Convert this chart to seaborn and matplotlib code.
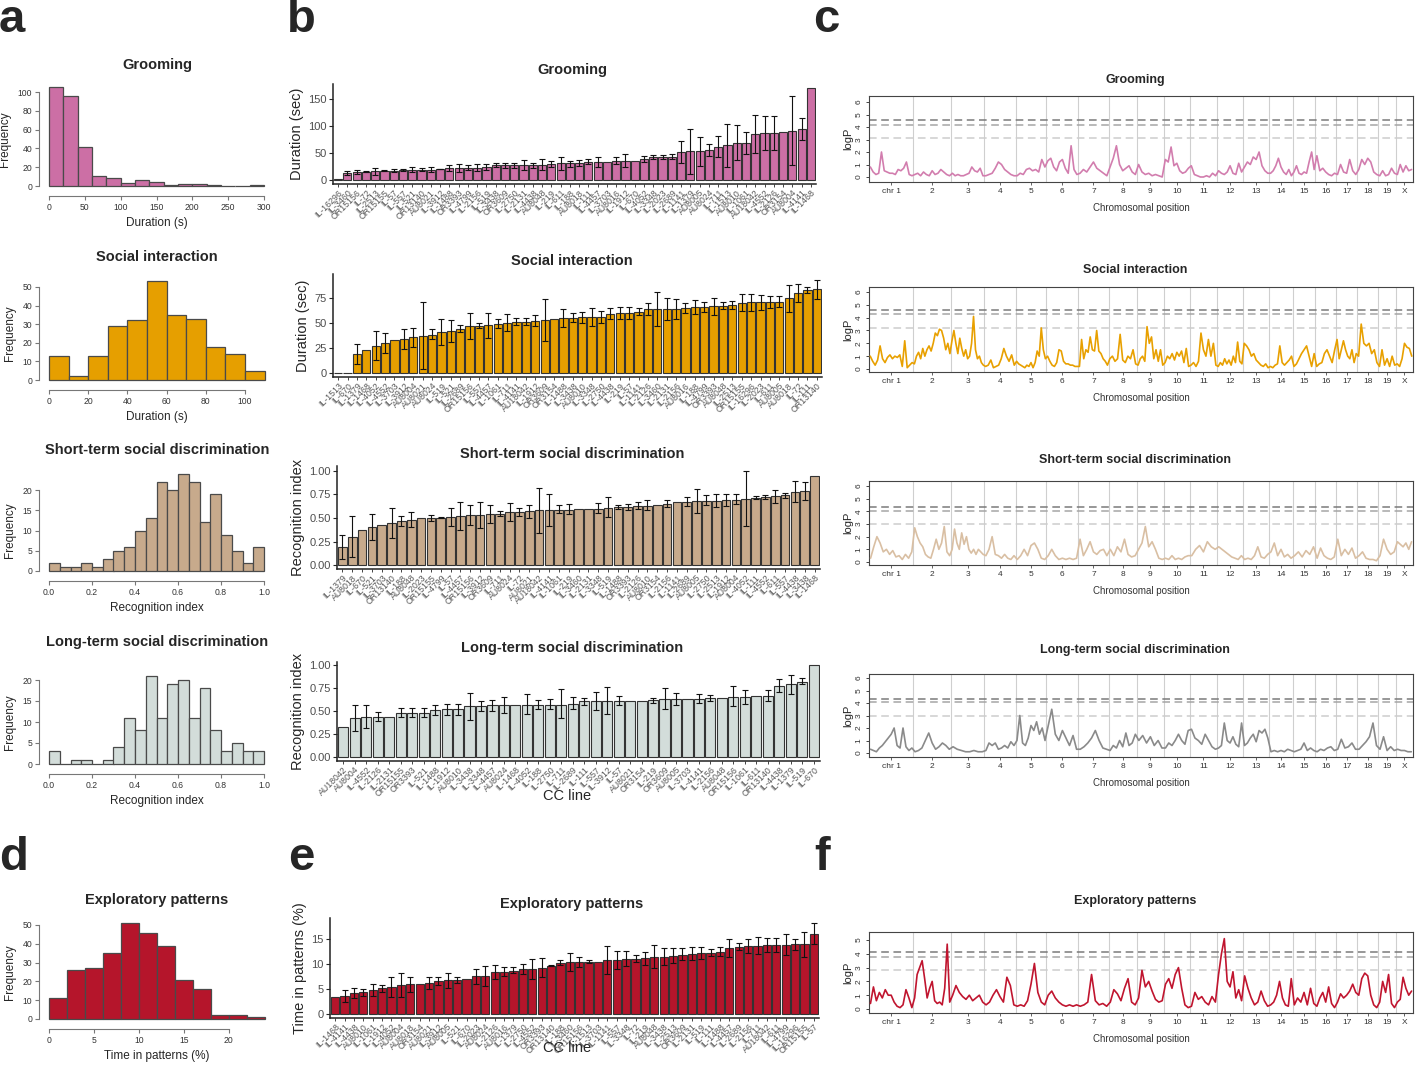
import numpy as np
import pandas as pd
import matplotlib
matplotlib.use("Agg")
import matplotlib.pyplot as plt
import seaborn as sns

# ---------------- colours ----------------
pink, orange, tan, sage, red = "#CC6FA5", "#E69F00", "#C7AA8C", "#D3DDDA", "#B5152B"
pink_line, orange_line, tan_line, grey_line, red_line = "#D27DAE", "#E8A000", "#D9BFA3", "#8A8A8A", "#C0152F"

# ---------------- a / d : histograms (bin counts) ----------------
groom_edges = list(range(0, 301, 20))
groom_counts = [105, 96, 42, 11, 8, 3, 6, 4, 1, 2, 2, 1, 0, 0, 1]
social_edges = list(range(0, 111, 10))
social_counts = [13, 2, 13, 29, 32, 53, 35, 33, 18, 14, 5]
ri_edges = [i / 20 for i in range(21)]
short_counts = [2, 1, 1, 2, 1, 3, 5, 6, 10, 13, 22, 20, 24, 22, 12, 19, 9, 5, 2, 6]
long_counts = [3, 0, 1, 1, 0, 1, 4, 11, 8, 21, 11, 19, 20, 11, 18, 8, 3, 5, 3, 3]
explo_edges = list(range(0, 25, 2))
explo_counts = [11, 26, 27, 35, 51, 46, 39, 21, 16, 2, 2, 1]

nan = np.nan

# ---------------- b / e : CC line means with error bars ----------------
groom_lines = ["IL-16296", "IL-3460", "OR15156", "IL-72", "IL-2513", "OR15155", "IL-57", "IL-557",
               "IL-521", "OR13140", "AU8021", "IL-3912", "IL-1488", "OR3393", "IL-4799", "IL-2156",
               "IL-519", "IL-3438", "OR3609", "IL-2750", "IL-2131", "IL-4438", "AU8048", "IL-219",
               "IL-611", "IL-188", "AU8018", "IL-111", "IL-4457", "IL-3703", "AU8016", "IL-1912",
               "IL-670", "IL-4052", "IL-3348", "IL-2023", "IL-2689", "IL-1141", "IL-1379", "AU8005",
               "AU8024", "IL-711", "IL-1513", "AU8010", "IL-1061", "AU18042", "IL-4552", "IL-2126",
               "OR3154", "AU8004", "IL-4141", "IL-1468"]
groom_mean = [2, 13, 14, 15, 16, 17, 17, 18, 19, 19, 19, 20, 22, 22, 22, 22, 24, 27, 27, 27, 27, 28,
              28, 30, 31, 31, 31, 33, 34, 34, 36, 36, 36, 38, 42, 43, 43, 52, 53, 53, 55, 62, 64, 69,
              69, 85, 87, 87, 88, 91, 94, 171]
groom_lo = [nan, 10, 11, 14, 10, 16, 14, 16, 15, 16, 15, 20, 17, 15, 18, 16, 19, 24, 22, 23, 18, 23,
            18, 25, 18, 25, 26, 29, 25, nan, 30, 25, nan, 33, 38, 39, 38, 32, 12, 26, 44, 43, 25, 37,
            49, 50, 56, 56, nan, 27, 74, nan]
groom_hi = [nan, 16, 18, 17, 23, 18, 20, 21, 24, 23, 24, 21, 28, 30, 27, 29, 29, 31, 32, 32, 37, 32,
            38, 35, 43, 36, 37, 38, 43, nan, 43, 48, nan, 44, 46, 47, 48, 72, 94, 80, 67, 82, 103, 101,
            89, 120, 118, 118, nan, 155, 115, nan]

social_lines = ["IL-1513", "IL-670", "IL-1379", "IL-1468", "IL-4052", "IL-4552", "IL-3703", "IL-3912",
                "AU8004", "AU8021", "AU8024", "IL-519", "IL-521", "IL-2689", "OR15156", "IL-557",
                "IL-4457", "IL-1061", "IL-711", "IL-4141", "AU18042", "IL-1912", "OR3609", "OR3154",
                "IL-1488", "IL-3438", "AU8010", "IL-3348", "IL-2750", "IL-4438", "IL-219", "IL-57",
                "IL-1141", "IL-2126", "IL-3460", "IL-2131", "IL-2156", "AU8016", "IL-188", "IL-4799",
                "OR3393", "AU8048", "IL-2513", "OR15155", "IL-16296", "IL-2023", "IL-611", "AU8005",
                "AU8018", "IL-72", "IL-111", "OR13140"]
social_mean = [0, 0, 19, 23, 27, 30, 33, 34, 36, 37, 38, 41, 42, 44, 47, 47, 48, 49, 50, 51, 51, 52,
               53, 54, 55, 55, 56, 56, 56, 59, 60, 60, 61, 64, 64, 64, 64, 65, 66, 66, 67, 67, 68, 70,
               71, 71, 71, 71, 75, 80, 83, 84]
social_lo = [nan, nan, 9, nan, 13, 20, nan, 24, 26, 4, 34, 28, 31, 41, 34, 45, 35, 45, 42, 48, 48, 47,
             32, nan, 46, 51, 50, 47, 50, 54, 54, 54, 58, 58, 47, 53, 54, 60, 59, 61, 58, 64, 64, 62,
             62, 63, 65, 66, 61, 71, 80, 74]
social_hi = [nan, nan, 29, nan, 42, 40, nan, 44, 45, 71, 44, 54, 53, 48, 60, 50, 60, 54, 59, 55, 55, 58,
             74, nan, 64, 60, 61, 65, 62, 65, 66, 66, 65, 70, 81, 75, 74, 70, 73, 71, 75, 71, 72, 79,
             79, 78, 77, 77, 88, 89, 86, 93]

short_lines = ["IL-1379", "AU8018", "IL-670", "IL-521", "IL-3703", "OR13140", "IL-188", "AU8048",
               "IL-2023", "OR15155", "IL-4799", "IL-57", "IL-4457", "OR15156", "IL-3912", "OR3609",
               "IL-711", "AU8024", "IL-72", "AU8021", "AU18042", "IL-4141", "IL-1061", "IL-219",
               "IL-3460", "IL-2131", "IL-3348", "IL-519", "IL-1488", "OR3393", "IL-2126", "AU8010",
               "OR3154", "IL-2156", "IL-1141", "IL-2689", "AU8005", "IL-2750", "IL-2513", "IL-1912",
               "AU8004", "IL-4052", "IL-111", "IL-4552", "IL-611", "IL-557", "IL-4438", "IL-3438",
               "IL-1468"]
short_mean = [0.19, 0.30, 0.37, 0.40, 0.43, 0.45, 0.47, 0.48, 0.50, 0.50, 0.50, 0.51, 0.52, 0.53, 0.53,
              0.54, 0.54, 0.56, 0.56, 0.57, 0.58, 0.58, 0.59, 0.59, 0.60, 0.60, 0.60, 0.61, 0.62, 0.62,
              0.63, 0.63, 0.64, 0.65, 0.67, 0.67, 0.68, 0.68, 0.68, 0.69, 0.69, 0.70, 0.71, 0.72, 0.73,
              0.74, 0.78, 0.79, 0.95]
short_lo = [0.06, 0.09, nan, 0.27, nan, 0.29, 0.42, 0.40, nan, 0.47, 0.50, 0.42, 0.37, 0.43, 0.39,
            0.45, 0.52, 0.47, 0.52, 0.50, 0.34, 0.41, 0.55, 0.54, nan, nan, 0.55, 0.51, 0.60, 0.59,
            0.60, 0.58, nan, 0.62, nan, 0.63, 0.55, 0.64, 0.62, 0.63, 0.65, 0.41, 0.70, 0.70, 0.66,
            0.71, 0.67, 0.69, nan]
short_hi = [0.32, 0.52, nan, 0.54, nan, 0.61, 0.52, 0.56, nan, 0.53, 0.51, 0.61, 0.67, 0.64, 0.67,
            0.64, 0.57, 0.66, 0.61, 0.64, 0.82, 0.76, 0.64, 0.65, nan, nan, 0.66, 0.72, 0.64, 0.65,
            0.67, 0.69, nan, 0.69, nan, 0.72, 0.81, 0.74, 0.76, 0.75, 0.75, 1.00, 0.73, 0.74, 0.80,
            0.77, 0.89, 0.88, nan]

long_lines = ["AU18042", "AU8004", "IL-4552", "IL-2126", "IL-2131", "OR15155", "OR3393", "IL-521",
              "IL-1488", "IL-1912", "AU8010", "IL-3438", "IL-3348", "IL-4457", "AU8024", "IL-1468",
              "IL-4052", "IL-188", "IL-2750", "IL-711", "IL-2689", "IL-111", "IL-557", "IL-3912",
              "IL-57", "AU8021", "OR3154", "IL-219", "OR3609", "AU8005", "IL-3703", "IL-4141",
              "IL-2156", "AU8048", "OR15156", "IL-1061", "IL-611", "OR13140", "IL-4438", "IL-1379",
              "IL-519", "IL-670"]
long_mean = [0.33, 0.42, 0.43, 0.43, 0.44, 0.48, 0.48, 0.48, 0.51, 0.52, 0.52, 0.55, 0.55, 0.56, 0.56,
             0.57, 0.57, 0.57, 0.57, 0.57, 0.58, 0.61, 0.61, 0.61, 0.61, 0.61, 0.61, 0.62, 0.63, 0.63,
             0.63, 0.63, 0.64, 0.64, 0.65, 0.65, 0.66, 0.66, 0.77, 0.79, 0.82, 1.00]
long_lo = [nan, 0.28, 0.31, 0.39, nan, 0.44, 0.43, 0.44, 0.46, 0.46, 0.46, 0.40, 0.50, 0.50, 0.48, nan,
           0.47, 0.52, 0.52, 0.42, 0.52, 0.57, 0.51, 0.47, 0.57, nan, nan, 0.59, 0.52, 0.57, nan, 0.59,
           0.61, nan, 0.55, 0.58, nan, 0.61, 0.71, 0.69, 0.79, nan]
long_hi = [nan, 0.57, 0.56, 0.49, nan, 0.53, 0.53, 0.53, 0.57, 0.58, 0.58, 0.70, 0.61, 0.62, 0.65, nan,
           0.68, 0.62, 0.63, 0.74, 0.65, 0.64, 0.71, 0.76, 0.66, nan, nan, 0.64, 0.75, 0.70, nan, 0.69,
           0.67, nan, 0.77, 0.73, nan, 0.73, 0.85, 0.89, 0.86, nan]

explo_lines = ["IL-1468", "IL-4141", "IL-4438", "AU8010", "IL-1061", "IL-1912", "IL-4052", "AU8004",
               "AU8018", "OR3154", "AU8021", "IL-3912", "AU8005", "IL-521", "IL-670", "IL-2023",
               "AU8024", "IL-2126", "AU8016", "IL-1379", "IL-2750", "IL-4552", "OR3393", "OR13140",
               "IL-188", "IL-3460", "OR15156", "IL-1513", "IL-3703", "IL-1141", "IL-557", "IL-3348",
               "IL-72", "IL-219", "AU8048", "IL-3438", "IL-2513", "OR3609", "IL-2131", "IL-519",
               "IL-111", "IL-1488", "IL-4457", "IL-2689", "IL-2156", "IL-711", "AU18042", "IL-611",
               "IL-4799", "IL-16296", "OR15155", "IL-57"]
explo_mean = [3.5, 3.6, 4.3, 4.4, 4.8, 5.2, 5.5, 5.8, 6.0, 6.0, 6.2, 6.6, 6.8, 6.8, 7.0, 7.6, 7.7, 8.4,
              8.5, 8.7, 9.0, 9.1, 9.3, 9.7, 10.3, 10.4, 10.4, 10.5, 10.5, 10.8, 10.9, 11.1, 11.1, 11.2,
              11.5, 11.5, 11.7, 11.9, 12.1, 12.2, 12.3, 12.5, 13.2, 13.4, 13.7, 13.7, 13.8, 13.8, 13.9,
              14.0, 14.0, 16.1]
explo_lo = [nan, 2.4, 3.3, 3.7, 3.6, 4.5, 3.5, 3.4, 4.5, nan, 5.0, 5.9, 5.3, 6.2, nan, 6.1, 5.7, 7.0,
            7.6, 8.2, 8.1, 7.1, 7.5, 9.6, 9.8, 8.6, 9.4, 10.2, nan, 8.0, 9.1, 9.7, 10.4, 9.8, 9.3, 9.8,
            10.2, 10.8, 10.8, 11.0, 11.6, 11.6, 11.5, 12.8, 12.2, 12.0, 12.4, 12.5, 11.8, 12.9, 11.5,
            14.0]
explo_hi = [nan, 4.8, 5.3, 5.1, 6.0, 5.9, 7.4, 8.2, 7.5, nan, 7.5, 7.5, 8.3, 7.4, nan, 9.0, 9.7, 9.8,
            9.5, 9.5, 10.0, 11.1, 11.2, 9.9, 10.9, 12.2, 11.5, 10.9, nan, 13.6, 12.6, 12.6, 11.9, 12.5,
            13.8, 13.2, 13.3, 13.2, 13.4, 13.4, 13.1, 13.5, 15.0, 14.2, 15.1, 15.5, 15.2, 15.2, 16.0,
            15.1, 16.5, 18.2]

# ---------------- c / f : genome scans (logP per chromosome, coarse reading) ----------------
chrom_names = ["chr 1"] + [str(i) for i in range(2, 20)] + ["X"]
chrom_len = [125, 106, 94, 88, 87, 90, 85, 80, 76, 73, 77, 73, 74, 66, 64, 58, 60, 59, 50, 48]

groom_lod = [
    [0.8, 0.4, 0.2, 0.3, 2.0, 0.5, 0.4, 0.3, 0.3, 0.2, 0.6, 0.5, 0.7, 1.2, 0.2, 0.1],
    [0.2, 0.3, 0.1, 0.4, 0.2, 0.1, 0.5, 0.2, 0.3, 0.6, 0.4, 0.2, 0.1],
    [0.3, 0.1, 0.2, 0.1, 0.1, 0.2, 0.3, 0.8, 0.5, 0.4, 0.7, 0.1],
    [0.1, 0.2, 0.3, 0.7, 1.2, 1.0, 0.6, 0.4, 0.2, 0.1],
    [0.1, 0.3, 0.2, 0.6, 0.7, 0.5, 0.6, 0.4, 1.4, 0.8],
    [1.3, 1.5, 0.8, 0.5, 1.2, 1.4, 0.7, 0.3, 2.5, 0.6, 0.2],
    [0.3, 0.6, 0.4, 0.8, 1.2, 0.7, 0.5, 0.3, 0.1],
    [0.8, 1.5, 2.5, 1.0, 0.5, 0.7, 0.9, 0.4, 0.2],
    [1.0, 0.4, 0.2, 0.3, 0.1, 0.2, 0.1, 0.0],
    [1.4, 1.2, 2.4, 0.9, 1.1, 0.5, 0.3, 0.4, 0.7],
    [0.9, 0.2, 0.1, 0.0, 0.0, 0.1, 0.0, 0.3, 0.1],
    [0.5, 0.3, 0.2, 0.4, 0.9, 0.3, 0.2, 1.1, 0.4],
    [0.8, 1.2, 1.0, 1.6, 1.4, 2.0, 0.9, 0.5, 0.3],
    [0.3, 0.5, 0.9, 1.5, 0.8, 0.4, 0.2, 0.6, 0.1],
    [0.4, 0.9, 0.3, 0.2, 0.4, 0.3, 1.2, 2.0, 0.6],
    [1.7, 0.5, 0.7, 0.4, 0.2, 0.1, 0.3],
    [0.2, 1.0, 0.4, 0.3, 1.4, 0.5, 0.2],
    [0.6, 1.4, 1.0, 1.5, 1.2, 0.4, 0.2],
    [0.1, 0.5, 0.1, 0.2, 0.7, 0.3],
    [0.2, 1.0, 0.4, 0.9, 0.5, 0.6],
]
social_lod = [
    [1.0, 0.6, 0.3, 0.7, 1.8, 0.8, 0.5, 0.9, 1.1, 0.8, 1.0, 0.9, 1.1, 0.2, 2.2, 0.1, 0.3, 0.5],
    [0.4, 1.0, 1.3, 0.8, 1.6, 1.0, 1.5, 1.8, 1.4, 2.0, 2.8, 2.6, 3.1, 3.0, 2.4, 1.5, 2.0, 1.2],
    [2.2, 3.0, 2.0, 1.2, 2.4, 1.6, 1.0, 1.5, 0.8, 1.0, 2.0, 4.1, 1.5, 0.8, 1.0, 0.5, 0.3],
    [0.2, 0.3, 0.7, 0.1, 0.2, 0.3, 0.8, 1.6, 1.0, 0.6, 1.1, 0.3],
    [0.6, 0.4, 0.3, 0.2, 0.1, 0.3, 0.2, 0.5, 0.1, 0.5, 1.4, 1.0, 3.2, 1.5, 0.8],
    [1.0, 0.6, 0.3, 0.2, 0.5, 1.5, 1.4, 0.6, 0.4, 0.4, 0.3, 0.3, 0.2, 0.2],
    [0.2, 2.3, 0.8, 1.5, 1.3, 2.5, 1.5, 1.4, 3.0, 1.4, 1.2, 0.8, 0.6, 0.3],
    [0.8, 1.0, 0.6, 0.8, 2.7, 0.7, 0.5, 1.0, 0.8, 1.5, 0.4],
    [0.3, 0.8, 1.0, 0.6, 3.3, 2.0, 2.5, 0.8, 1.5, 0.6, 1.5, 0.3],
    [0.5, 1.0, 0.8, 1.2, 0.7, 1.3, 1.0, 1.4, 0.5, 1.6, 0.2],
    [0.3, 0.5, 0.2, 0.6, 2.8, 1.5, 1.0, 2.3, 1.0, 2.0, 0.3],
    [0.2, 0.5, 0.3, 0.8, 0.4, 0.7, 0.3, 1.0, 0.5, 2.1, 0.6, 0.4],
    [2.0, 1.8, 1.5, 1.0, 1.2, 0.7, 0.5, 0.3, 0.2, 0.4, 0.1],
    [0.2, 0.1, 0.3, 0.4, 1.8, 0.5, 0.3, 0.5, 0.7, 1.0],
    [0.2, 0.4, 0.8, 1.2, 1.5, 1.8, 1.0, 0.2, 1.2],
    [0.2, 0.4, 0.5, 1.2, 1.5, 1.0, 0.5, 1.5],
    [2.3, 0.8, 1.5, 2.2, 1.5, 1.0, 0.8, 1.5, 0.5, 1.2],
    [1.0, 3.5, 2.0, 1.8, 2.0, 1.2, 1.5, 0.5],
    [0.2, 1.5, 0.3, 0.8, 0.2, 1.0, 0.3],
    [0.4, 0.2, 0.8, 2.0, 1.7, 1.6, 1.0],
]
short_lod = [
    [0.3, 1.2, 2.0, 1.5, 0.8, 1.0, 0.6, 0.9, 0.4, 0.5, 0.2, 0.6, 0.3, 0.8],
    [2.7, 2.0, 1.5, 1.2, 0.6, 0.4, 0.3, 1.0, 1.8, 1.0, 1.5, 2.8, 0.8, 0.5],
    [1.0, 2.6, 1.5, 1.0, 2.3, 1.4, 2.0, 1.0, 0.7, 1.0, 0.6, 1.0, 0.8, 0.6],
    [0.5, 1.0, 2.0, 0.6, 0.5, 0.3, 0.6, 0.3, 0.2, 0.5],
    [0.2, 0.5, 1.0, 0.5, 1.3, 1.5, 1.0, 0.3, 0.2],
    [0.5, 1.0, 0.5, 0.2, 0.3, 0.2, 0.3, 0.2, 0.3],
    [1.8, 0.5, 1.0, 1.6, 0.8, 0.6, 0.9, 1.0, 0.5],
    [1.0, 0.5, 1.2, 0.8, 1.8, 0.6, 0.4, 0.5],
    [1.0, 1.5, 2.8, 1.2, 1.6, 1.0, 0.3, 0.2],
    [0.3, 0.2, 0.5, 0.2, 0.3, 0.2, 0.4, 0.5],
    [0.5, 1.0, 1.3, 0.8, 1.6, 1.2, 1.0],
    [1.2, 1.0, 0.8, 0.6, 0.4, 0.3, 0.2, 0.5],
    [0.2, 0.3, 0.2, 0.5, 1.2, 0.4, 0.3, 0.6],
    [0.8, 1.5, 0.5, 1.0, 0.4, 0.6, 0.3],
    [0.5, 0.8, 0.4, 0.9, 0.6, 1.2],
    [0.3, 1.1, 0.5, 0.3, 0.2, 0.4],
    [1.8, 0.5, 1.0, 0.6, 1.1, 0.3],
    [0.5, 0.8, 0.3, 0.2, 0.2, 0.1],
    [0.5, 1.8, 1.0, 0.6, 0.8],
    [1.6, 1.4, 1.2, 1.5, 1.0, 1.6],
]
long_lod = [
    [0.3, 0.2, 0.1, 0.4, 0.6, 0.9, 1.2, 1.5, 2.0, 0.6, 0.4, 2.0, 0.5, 0.2, 0.4],
    [0.1, 0.2, 0.4, 1.0, 1.6, 0.8, 0.3, 0.5, 0.8, 0.6, 0.3],
    [0.5, 0.3, 0.2, 0.1, 0.1, 0.2, 0.1, 0.1],
    [0.2, 0.8, 0.6, 0.8, 0.3, 0.4, 0.6, 0.4, 0.9, 0.6],
    [1.0, 3.0, 0.8, 0.6, 1.2, 2.2, 1.8, 2.5, 1.5, 2.0, 1.0],
    [2.2, 3.5, 1.5, 1.0, 1.8, 1.2, 0.6, 1.4, 0.3],
    [0.3, 0.5, 0.8, 1.2, 1.8, 1.0, 0.4, 0.3],
    [0.2, 0.6, 0.4, 1.0, 0.5, 1.6, 0.6, 0.8, 1.5],
    [1.0, 1.4, 0.8, 1.3, 0.6, 1.0, 0.4],
    [0.4, 0.8, 0.6, 1.0, 1.5, 1.0, 0.7, 1.8],
    [1.9, 1.2, 1.0, 0.7, 1.5, 1.0, 0.5, 0.3],
    [0.4, 0.6, 2.4, 1.0, 0.8, 1.3, 0.7, 0.5, 2.4],
    [0.6, 0.8, 1.2, 1.5, 0.9, 1.8, 1.6, 1.9, 1.2],
    [0.1, 0.2, 0.1, 0.2, 0.1, 0.3, 0.2],
    [0.1, 0.2, 0.3, 0.8, 0.2, 0.4, 0.2],
    [0.1, 0.3, 0.2, 0.4, 0.5, 0.2],
    [0.3, 1.1, 0.4, 0.5, 0.8, 0.3],
    [0.3, 0.6, 0.9, 1.3, 2.4, 0.6],
    [0.3, 1.3, 0.2, 0.5, 0.2],
    [0.3, 0.2, 0.2, 0.1, 0.1],
]
explo_lod = [
    [0.4, 1.6, 0.6, 1.2, 0.8, 1.4, 1.0, 1.0, 0.5, 0.2, 0.1, 0.3, 1.4, 0.8, 0.1],
    [0.8, 2.5, 3.0, 3.5, 2.2, 0.8, 1.5, 2.0, 0.6, 0.4, 0.5, 0.3, 1.5, 4.7, 0.5],
    [1.0, 1.7, 1.2, 0.9, 0.7, 1.0, 0.6, 0.8, 1.0, 0.5],
    [0.3, 0.5, 1.0, 1.4, 0.9, 0.5, 2.3, 1.7, 0.3],
    [0.2, 0.3, 0.2, 0.6, 1.8, 3.3, 1.2, 0.5, 0.3],
    [1.0, 1.3, 0.8, 0.5, 0.3, 0.2, 0.3, 0.2, 0.3],
    [0.2, 0.3, 0.5, 2.5, 0.6, 0.3, 0.4, 0.2],
    [0.5, 1.4, 1.1, 0.6, 1.5, 2.2, 0.5, 0.3],
    [0.8, 2.8, 1.6, 2.0, 1.3, 0.7, 0.5, 0.6],
    [1.8, 2.2, 1.5, 2.5, 3.0, 1.5, 0.3, 0.1],
    [0.2, 1.2, 0.7, 0.9, 0.5, 0.3, 0.9, 0.5],
    [2.5, 4.0, 5.1, 2.0, 1.6, 2.7, 0.8, 1.4, 0.6],
    [2.4, 1.5, 0.8, 0.3, 0.5, 1.3, 0.6, 0.2],
    [0.3, 0.5, 1.0, 2.0, 0.8, 0.3, 0.2, 2.2],
    [0.3, 0.8, 0.5, 1.2, 0.3, 1.5, 0.4],
    [0.2, 0.8, 1.2, 0.5, 1.6, 0.4, 0.1],
    [0.5, 1.1, 0.8, 1.0, 1.3, 1.8, 1.2],
    [1.0, 2.2, 2.6, 2.4, 1.0, 0.3, 0.1],
    [0.5, 2.0, 1.2, 2.5, 0.4, 0.1],
    [0.5, 0.7, 2.3, 1.5, 1.0, 1.3],
]
groom_thr = [4.6, 4.2, 3.15]
social_thr = [4.62, 4.26, 3.2]
short_thr = [4.31, 4.02, 2.98]
long_thr = [4.32, 4.05, 2.99]
explo_thr = [4.1, 3.75, 2.85]

# ---------------- figure ----------------
W, H = 1415, 1065
sns.set_theme(style="ticks")
plt.rcParams["font.family"] = ["Liberation Sans", "DejaVu Sans"]
fig = plt.figure(figsize=(W / 100, H / 100), dpi=100)


def px_axes(left, top, right, bottom):
    return fig.add_axes([left / W, 1 - bottom / H, (right - left) / W, (bottom - top) / H])


def hist_panel(edges, counts, color, x_px, y_px, ytop, xticks, xfmt, yticks, title, title_y, xlabel):
    x0, x1 = x_px
    yb, yt = y_px
    ax = px_axes(x0, yt, x1, yb)
    df = pd.DataFrame({"mid": [(a + b) / 2 for a, b in zip(edges[:-1], edges[1:])], "n": counts})
    sns.histplot(data=df, x="mid", weights="n", bins=edges, color=color, edgecolor="#4a4a4a",
                 linewidth=0.9, alpha=1, ax=ax)
    for p in ax.patches:
        p.set_clip_on(False)
    ax.set_xlim(edges[0], edges[-1])
    ax.set_ylim(0, ytop)
    ax.set_xticks(xticks)
    ax.set_xticklabels([xfmt.format(v) for v in xticks])
    ax.set_yticks(yticks)
    ax.set_yticklabels([str(v) for v in yticks], rotation=90, va="center")
    sns.despine(ax=ax, offset=7, trim=True)
    for s in ("left", "bottom"):
        ax.spines[s].set_color("#777777")
        ax.spines[s].set_linewidth(0.8)
    ax.tick_params(labelsize=6.2, colors="#777777", labelcolor="#333333", length=3, width=0.8, pad=2)
    ax.set_xlabel(xlabel, fontsize=8.5, labelpad=4)
    ax.set_ylabel("Frequency", fontsize=8.5, labelpad=5)
    fig.text(157 / W, 1 - title_y / H, title, ha="center", va="center", fontsize=10.5, fontweight="bold")
    return ax


def bar_panel(labels, means, lo, hi, color, box, cal, yticks, yfmt, ylabel, title, title_y, xlabel_y=None):
    left, top, right, bottom = box
    y0, yt_px, yt_val = cal
    scale = (y0 - yt_px) / yt_val
    ax = px_axes(left, top, right, bottom)
    n = len(labels)
    sns.barplot(x=labels, y=means, order=labels, color=color, edgecolor="#333333", linewidth=0.8,
                width=0.88, saturation=1, errorbar=None, ax=ax)
    m, l, h = np.array(means, float), np.array(lo, float), np.array(hi, float)
    ax.errorbar(np.arange(n), m, yerr=[m - l, h - m], fmt="none", ecolor="#111111",
                elinewidth=0.8, capsize=2, capthick=0.8)
    ax.set_xlim(-0.55, n - 0.45)
    ax.set_ylim(-(bottom - y0) / scale, (y0 - top) / scale)
    ax.set_yticks(yticks)
    ax.set_yticklabels([yfmt.format(v) for v in yticks])
    ax.set_xticks(np.arange(n))
    ax.set_xticklabels(labels, rotation=45, ha="right", rotation_mode="anchor")
    sns.despine(ax=ax)
    for s in ("left", "bottom"):
        ax.spines[s].set_color("#222222")
        ax.spines[s].set_linewidth(1.1)
    ax.tick_params(axis="y", labelsize=8, labelcolor="#4d4d4d", length=3, width=0.8, pad=1.5)
    ax.tick_params(axis="x", labelsize=6.3, labelcolor="#555555", length=2, width=0.6, pad=1)
    ax.set_ylabel(ylabel, fontsize=10.5, labelpad=3)
    ax.set_xlabel("")
    if xlabel_y is not None:
        fig.text(567 / W, 1 - xlabel_y / H, "CC line", ha="center", va="center", fontsize=10.5)
    fig.text(572 / W, 1 - title_y / H, title, ha="center", va="center", fontsize=10.5, fontweight="bold")
    return ax


def lod_panel(lod, color, thr, box, cal, yticks, title, title_y):
    left, top, right, bottom = box
    y0, yt_px, yt_val = cal
    scale = (y0 - yt_px) / yt_val
    ax = px_axes(left, top, right, bottom)
    ends = np.cumsum(chrom_len)
    starts = ends - np.array(chrom_len)
    xs, ys = [], []
    for s, L, vals in zip(starts, chrom_len, lod):
        k = len(vals)
        xs.extend(s + (np.arange(k) + 0.5) * L / k)
        ys.extend(vals)
    for b in ends[:-1]:
        ax.axvline(b, color="#cfcfcf", lw=0.8, zorder=0)
    for t, c in zip(thr, ["#7a7a7a", "#a5a5a5", "#cdcdcd"]):
        ax.axhline(t, color=c, lw=1.1, ls=(0, (5, 3)), zorder=1)
    sns.lineplot(x=xs, y=ys, color=color, linewidth=1.2, estimator=None, sort=False, ax=ax, zorder=3)
    ax.set_xlim(0, ends[-1])
    ax.set_ylim(-(bottom - y0) / scale, (y0 - top) / scale)
    ax.set_xticks(starts + np.array(chrom_len) / 2)
    ax.set_xticklabels(chrom_names)
    ax.set_yticks(yticks)
    ax.set_yticklabels([str(v) for v in yticks], rotation=90, va="center")
    for s in ax.spines.values():
        s.set_visible(True)
        s.set_color("#444444")
        s.set_linewidth(0.8)
    ax.tick_params(axis="x", labelsize=6, labelcolor="#333333", length=2, width=0.5, pad=2)
    ax.tick_params(axis="y", labelsize=6, labelcolor="#333333", length=2.5, width=0.6, pad=2)
    ax.set_xlabel("Chromosomal position", fontsize=7, color="#333333", labelpad=6)
    ax.set_ylabel("logP", fontsize=8, labelpad=2)
    fig.text(1135 / W, 1 - title_y / H, title, ha="center", va="center", fontsize=9, fontweight="bold")
    return ax


# column a / d
hist_panel(groom_edges, groom_counts, pink, (49, 264), (186, 92), 100, list(range(0, 301, 50)), "{}",
           list(range(0, 101, 20)), "Grooming", 65, "Duration (s)")
hist_panel(social_edges, social_counts, orange, (49, 264.6), (380, 287), 50, list(range(0, 101, 20)), "{}",
           list(range(0, 51, 10)), "Social interaction", 257, "Duration (s)")
hist_panel(ri_edges, short_counts, tan, (49, 264), (571, 490), 20, [0, 0.2, 0.4, 0.6, 0.8, 1.0], "{:.1f}",
           [0, 5, 10, 15, 20], "Short-term social discrimination", 450, "Recognition index")
hist_panel(ri_edges, long_counts, sage, (49, 264), (764, 680), 20, [0, 0.2, 0.4, 0.6, 0.8, 1.0], "{:.1f}",
           [0, 5, 10, 15, 20], "Long-term social discrimination", 642, "Recognition index")
hist_panel(explo_edges, explo_counts, red, (49, 264.6), (1019, 925), 50, [0, 5, 10, 15, 20], "{}",
           list(range(0, 51, 10)), "Exploratory patterns", 900, "Time in patterns (%)")

# column b / e
bar_panel(groom_lines, groom_mean, groom_lo, groom_hi, pink, (333, 84, 816, 184), (180, 99, 150),
          [0, 50, 100, 150], "{}", "Duration (sec)", "Grooming", 70)
bar_panel(social_lines, social_mean, social_lo, social_hi, orange, (333, 274, 822, 377), (373, 298, 75),
          [0, 25, 50, 75], "{}", "Duration (sec)", "Social interaction", 261)
bar_panel(short_lines, short_mean, short_lo, short_hi, tan, (337, 466, 820, 569), (565, 471, 1.0),
          [0, 0.25, 0.5, 0.75, 1.0], "{:.2f}", "Recognition index", "Short-term social discrimination", 454)
bar_panel(long_lines, long_mean, long_lo, long_hi, sage, (337, 662, 820, 761), (757, 665, 1.0),
          [0, 0.25, 0.5, 0.75, 1.0], "{:.2f}", "Recognition index", "Long-term social discrimination", 648,
          xlabel_y=796)
bar_panel(explo_lines, explo_mean, explo_lo, explo_hi, red, (330, 918, 819, 1018), (1014, 939, 15),
          [0, 5, 10, 15], "{}", "Time in patterns (%)", "Exploratory patterns", 904, xlabel_y=1048)

# column c / f
lod_panel(groom_lod, pink_line, groom_thr, (869, 96, 1413, 182), (177, 102, 6), list(range(7)), "Grooming", 80)
lod_panel(social_lod, orange_line, social_thr, (869, 287, 1413, 372), (369, 292, 6), list(range(7)),
          "Social interaction", 270)
lod_panel(short_lod, tan_line, short_thr, (869, 481, 1413, 565), (562, 486, 6), list(range(7)),
          "Short-term social discrimination", 460)
lod_panel(long_lod, grey_line, long_thr, (869, 674, 1413, 757), (753, 678, 6), list(range(7)),
          "Long-term social discrimination", 650)
lod_panel(explo_lod, red_line, explo_thr, (869, 932, 1413, 1013), (1009, 940, 5), list(range(6)),
          "Exploratory patterns", 901)

# panel letters
for letter, x, y in [("a", 12, 20), ("b", 301, 20), ("c", 826, 20), ("d", 14, 858), ("e", 301, 858), ("f", 822, 858)]:
    fig.text(x / W, 1 - y / H, letter, ha="center", va="center", fontsize=34, fontweight="bold")

fig.savefig("out.png", dpi=100)
plt.close(fig)
